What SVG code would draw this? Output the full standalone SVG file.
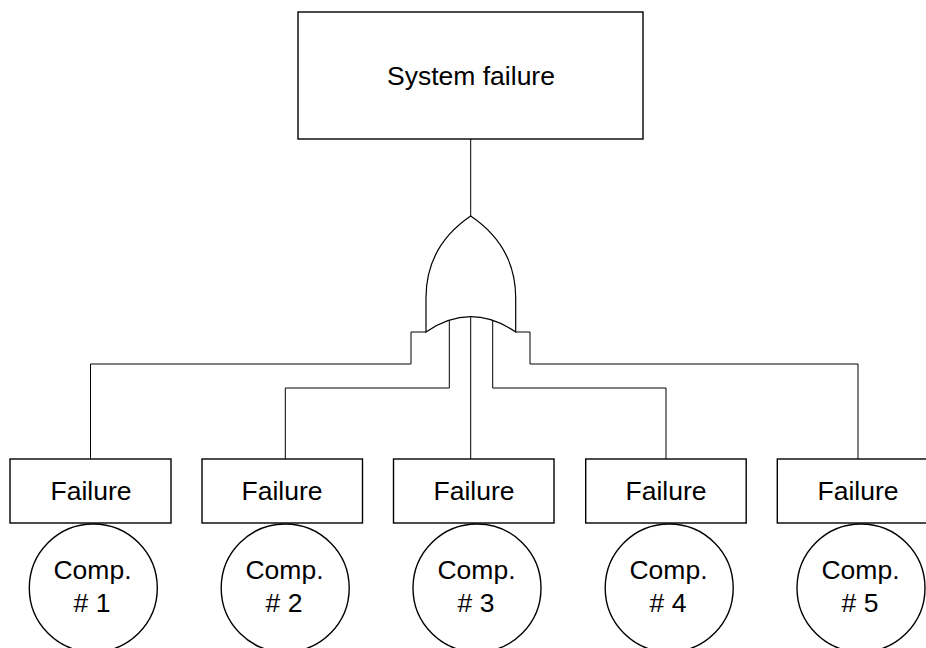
<svg xmlns="http://www.w3.org/2000/svg" width="926" height="648" viewBox="0 0 926 648">
  <style>
    .box { fill: #fff; stroke: #000; stroke-width: 1.4; }
    .gate { fill: #fff; stroke: #000; stroke-width: 1.2; }
    .wire { fill: none; stroke: #000; stroke-width: 1; }
    .lbl { font-family: "Liberation Sans", Arial, sans-serif; font-size: 26.5px; fill: #000; text-anchor: middle; }
  </style>
  <rect width="926" height="648" fill="#fff"/>

  <!-- connectors -->
  <g id="connectors">
    <path class="wire" d="M470.7,139 V216"/>
    <path class="wire" d="M426,332 H411 V364 H90.5 V459"/>
    <path class="wire" d="M515.7,332 H530 V364 H858 V459"/>
    <path class="wire" d="M449.3,316 V388 H285.3 V459"/>
    <path class="wire" d="M470.7,310 V459"/>
    <path class="wire" d="M492.7,316 V388 H666 V459"/>
  </g>

  <!-- top event -->
  <g id="top-event">
    <rect class="box" x="298" y="12" width="345" height="127"/>
    <text class="lbl" x="471" y="85">System failure</text>
  </g>

  <!-- OR gate -->
  <g id="or-gate">
    <path class="gate" d="M426,332 V298 C426,255 450,230 470.7,216 C491.4,230 515.7,255 515.7,298 V332 Q470.7,301.4 426,332 Z"/>
  </g>

  <!-- basic events -->
  <g id="event-1">
    <rect class="box" x="10" y="459" width="161" height="64"/>
    <text class="lbl" x="91" y="500">Failure</text>
    <circle class="box" cx="93.3" cy="588" r="64"/>
    <text class="lbl" x="92.5" y="579">Comp.</text>
    <text class="lbl" x="92" y="611.5"># 1</text>
  </g>
  <g id="event-2">
    <rect class="box" x="202" y="459" width="160.5" height="64"/>
    <text class="lbl" x="282" y="500">Failure</text>
    <circle class="box" cx="285.2" cy="588" r="64"/>
    <text class="lbl" x="284.5" y="579">Comp.</text>
    <text class="lbl" x="284" y="611.5"># 2</text>
  </g>
  <g id="event-3">
    <rect class="box" x="393.5" y="459" width="160.5" height="64"/>
    <text class="lbl" x="474" y="500">Failure</text>
    <circle class="box" cx="477" cy="588" r="64"/>
    <text class="lbl" x="476.5" y="579">Comp.</text>
    <text class="lbl" x="476" y="611.5"># 3</text>
  </g>
  <g id="event-4">
    <rect class="box" x="585.7" y="459" width="160.5" height="64"/>
    <text class="lbl" x="666" y="500">Failure</text>
    <circle class="box" cx="669.2" cy="588" r="64"/>
    <text class="lbl" x="668.5" y="579">Comp.</text>
    <text class="lbl" x="668" y="611.5"># 4</text>
  </g>
  <g id="event-5">
    <rect class="box" x="777.3" y="459" width="161" height="64"/>
    <text class="lbl" x="858" y="500">Failure</text>
    <circle class="box" cx="861" cy="588" r="64"/>
    <text class="lbl" x="860.5" y="579">Comp.</text>
    <text class="lbl" x="860" y="611.5"># 5</text>
  </g>
</svg>
